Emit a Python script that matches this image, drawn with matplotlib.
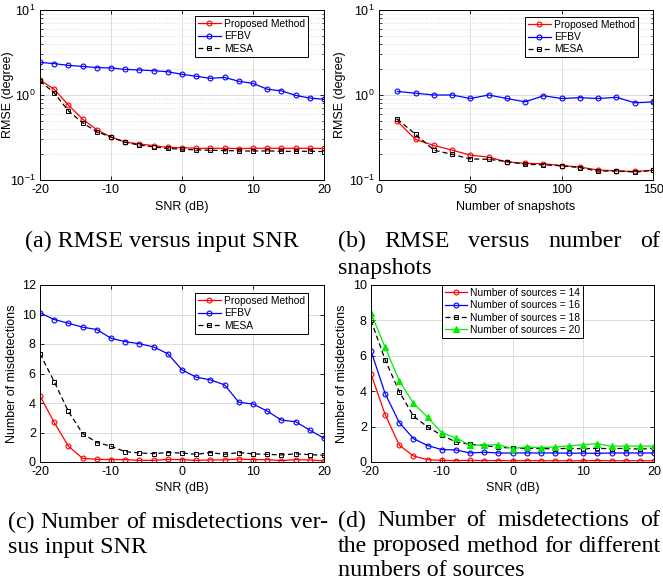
import numpy as np
import matplotlib
matplotlib.use('Agg')
import matplotlib.pyplot as plt

plt.rcParams['font.family'] = ['Liberation Sans', 'DejaVu Sans']
plt.rcParams['mathtext.fontset'] = 'custom'
plt.rcParams['mathtext.rm'] = 'Liberation Sans'
plt.rcParams['axes.unicode_minus'] = False

# ---- data ----
snr = np.arange(-20, 21, 2)
snap = np.arange(10, 151, 10)

rmse_snr_prop = [1.50, 1.17, 0.76, 0.52, 0.39, 0.32, 0.28, 0.265, 0.254, 0.242, 0.240,
                 0.236, 0.236, 0.236, 0.234, 0.236, 0.236, 0.236, 0.236, 0.236, 0.235]
rmse_snr_efbv = [2.42, 2.34, 2.23, 2.17, 2.10, 2.08, 2.00, 1.97, 1.93, 1.88, 1.75,
                 1.66, 1.57, 1.61, 1.45, 1.37, 1.17, 1.12, 0.99, 0.92, 0.89]
rmse_snr_mesa = [1.46, 1.06, 0.65, 0.47, 0.37, 0.32, 0.277, 0.258, 0.245, 0.235, 0.230,
                 0.226, 0.224, 0.222, 0.220, 0.219, 0.220, 0.218, 0.217, 0.218, 0.216]

rmse_snap_prop = [0.49, 0.30, 0.255, 0.225, 0.196, 0.186, 0.163, 0.157, 0.155, 0.148,
                  0.142, 0.131, 0.128, 0.126, 0.130]
rmse_snap_efbv = [1.10, 1.05, 1.00, 1.00, 0.91, 1.00, 0.91, 0.83, 0.98, 0.91,
                  0.93, 0.91, 0.94, 0.81, 0.83]
rmse_snap_mesa = [0.52, 0.345, 0.225, 0.200, 0.177, 0.175, 0.165, 0.153, 0.151, 0.147,
                  0.140, 0.127, 0.128, 0.124, 0.130]

mis_prop = [4.48, 2.68, 1.07, 0.25, 0.18, 0.16, 0.16, 0.11, 0.11, 0.18, 0.16,
            0.11, 0.14, 0.14, 0.20, 0.16, 0.16, 0.09, 0.16, 0.14, 0.07]
mis_efbv = [10.11, 9.66, 9.41, 9.14, 8.98, 8.39, 8.16, 8.02, 7.80, 7.34, 6.25,
            5.75, 5.57, 5.23, 4.05, 3.93, 3.45, 2.84, 2.73, 2.16, 1.61]
mis_mesa = [7.34, 5.45, 3.43, 1.93, 1.32, 1.07, 0.70, 0.61, 0.57, 0.64, 0.61,
            0.52, 0.64, 0.52, 0.64, 0.55, 0.52, 0.48, 0.55, 0.50, 0.45]

src14 = [4.97, 2.68, 0.95, 0.34, 0.13, 0.09, 0.08, 0.09, 0.08, 0.08, 0.07,
         0.08, 0.07, 0.07, 0.07, 0.07, 0.08, 0.07, 0.07, 0.07, 0.07]
src16 = [6.28, 3.86, 2.23, 1.32, 0.93, 0.70, 0.68, 0.51, 0.55, 0.51, 0.51,
         0.51, 0.51, 0.51, 0.50, 0.50, 0.49, 0.51, 0.51, 0.51, 0.51]
src18 = [8.00, 5.77, 3.97, 2.59, 1.98, 1.51, 1.13, 1.00, 0.93, 0.83, 0.79,
         0.78, 0.76, 0.74, 0.78, 0.74, 0.78, 0.74, 0.78, 0.72, 0.79]
src20 = [8.41, 6.47, 4.59, 3.31, 2.53, 1.66, 1.36, 0.95, 0.95, 0.98, 0.76,
         0.85, 0.81, 0.85, 0.91, 0.98, 1.04, 0.89, 0.91, 0.89, 0.91]

labels3 = ['Proposed Method', 'EFBV', 'MESA']
labels_src = ['Number of sources = 14', 'Number of sources = 16',
              'Number of sources = 18', 'Number of sources = 20']

W, H = 663, 588
fig = plt.figure(figsize=(W/100, H/100), dpi=100)
fig.patch.set_facecolor('white')


def px_axes(x0, y0, x1, y1):
    return fig.add_axes([x0/W, 1 - y1/H, (x1 - x0)/W, (y1 - y0)/H])


def style(ax, log=False):
    ax.tick_params(direction='in', top=True, right=True, labelsize=9, length=3, width=0.6, pad=3)
    ax.tick_params(which='minor', direction='in', top=True, right=True, length=1.8, width=0.5)
    for s in ax.spines.values():
        s.set_linewidth(0.7)
    ax.grid(True, which='major', color='#dcdcdc', linewidth=0.7)
    if log:
        ax.grid(True, which='minor', color='#dcdcdc', linestyle=':', linewidth=0.7)
    ax.set_axisbelow(True)


def labels(ax, xl, yl, ylx, xly):
    ax.set_xlabel(xl, fontsize=9)
    ax.set_ylabel(yl, fontsize=9)
    ax.yaxis.set_label_coords(ylx, 0.5)
    ax.xaxis.set_label_coords(0.5, xly)


kw = dict(linewidth=0.9, markersize=3.5, markeredgewidth=0.8, markerfacecolor='none')
kw_sq = dict(linewidth=0.9, markersize=2.5, markeredgewidth=0.7,
             markerfacecolor='none', dashes=(4, 2.5))


def three(ax, x, p, e, m):
    ax.plot(x, p, '-o', color='red', **kw)
    ax.plot(x, e, '-o', color='blue', **kw)
    ax.plot(x, m, '--s', color='black', **kw_sq)


def legend(ax, labels, loc, anchor):
    lg = ax.legend(labels, fontsize=7.4, fancybox=False, edgecolor='black',
                   framealpha=1, borderpad=0.3, labelspacing=0.22, handlelength=2.2,
                   handletextpad=0.3, borderaxespad=0, loc=loc, bbox_to_anchor=anchor)
    lg.get_frame().set_linewidth(0.7)
    return lg


# (a)
ax = px_axes(40, 10, 324, 180)
three(ax, snr, rmse_snr_prop, rmse_snr_efbv, rmse_snr_mesa)
ax.set_yscale('log')
ax.set_ylim(0.1, 10)
ax.set_xlim(-20, 20)
ax.set_xticks([-20, -10, 0, 10, 20])
style(ax, log=True)
labels(ax, 'SNR (dB)', 'RMSE (degree)', -0.09, -0.125)
legend(ax, labels3, 'upper right', (0.944, 0.965))

# (b)
ax = px_axes(379, 10, 653, 180)
three(ax, snap, rmse_snap_prop, rmse_snap_efbv, rmse_snap_mesa)
ax.set_yscale('log')
ax.set_ylim(0.1, 10)
ax.set_xlim(0, 150)
ax.set_xticks([0, 50, 100, 150])
style(ax, log=True)
labels(ax, 'Number of snapshots', 'RMSE (degree)', -0.12, -0.125)
legend(ax, labels3, 'upper right', (0.945, 0.96))

# (c)
ax = px_axes(40, 285, 324, 462)
three(ax, snr, mis_prop, mis_efbv, mis_mesa)
ax.set_ylim(0, 12)
ax.set_xlim(-20, 20)
ax.set_xticks([-20, -10, 0, 10, 20])
ax.set_yticks(np.arange(0, 13, 2))
style(ax)
labels(ax, 'SNR (dB)', 'Number of misdetections', -0.078, -0.113)
legend(ax, labels3, 'upper right', (0.944, 0.955))

# (d)
ax = px_axes(371, 285, 654, 462)
ax.plot(snr, src14, '-o', color='red', **kw)
ax.plot(snr, src16, '-o', color='blue', **kw)
ax.plot(snr, src18, '--s', color='black', **kw_sq)
ax.plot(snr, src20, '-^', color='#00ee00', linewidth=0.9, markersize=4,
        markeredgewidth=0.8, markerfacecolor='#00ee00')
ax.set_ylim(0, 10)
ax.set_xlim(-20, 20)
ax.set_xticks([-20, -10, 0, 10, 20])
ax.set_yticks(np.arange(0, 11, 2))
style(ax)
labels(ax, 'SNR (dB)', 'Number of misdetections', -0.081, -0.113)
legend(ax, labels_src, 'upper center', (0.5, 1.0))

# ---- captions (justified like the paper) ----
cap_kw = dict(fontsize=17.3, family=['Liberation Serif', 'DejaVu Serif'], va='center')
renderer = fig.canvas.get_renderer()


def caption_line(text, x0, x1, y, justify=True, ha='left'):
    words = text.split()
    if not justify or len(words) == 1:
        xx = x0 if ha == 'left' else (x0 + x1) / 2
        fig.text(xx/W, 1 - y/H, text, ha=ha, **cap_kw)
        return
    objs = [fig.text(0, 1 - y/H, w, ha='left', **cap_kw) for w in words]
    widths = [o.get_window_extent(renderer).width for o in objs]
    gap = (x1 - x0 - sum(widths)) / (len(words) - 1)
    x = x0
    for o, w in zip(objs, widths):
        o.set_x(x/W)
        x += w + gap


caption_line('(a) RMSE versus input SNR', 15, 308, 241, justify=False, ha='center')
caption_line('(b) RMSE versus number of', 338, 660, 241)
caption_line('snapshots', 338, 660, 268, justify=False)
caption_line('(c) Number of misdetections ver-', 8, 328, 522)
caption_line('sus input SNR', 8, 328, 548, justify=False)
caption_line('(d) Number of misdetections of', 338, 660, 521)
caption_line('the proposed method for different', 338, 660, 546)
caption_line('numbers of sources', 338, 660, 571, justify=False)

fig.savefig('out.png', dpi=100, facecolor='white')
